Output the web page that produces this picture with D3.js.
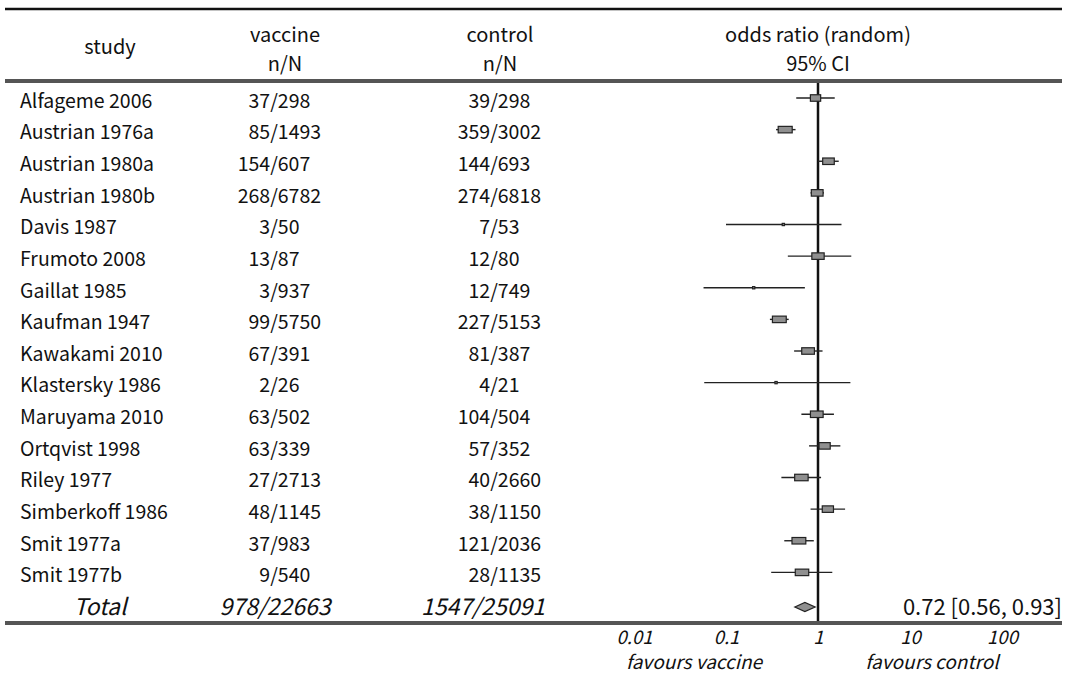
<!DOCTYPE html>
<html>
<head>
<meta charset="utf-8">
<script src="https://cdn.jsdelivr.net/npm/d3@7"></script>
<style>
  body { margin: 0; background: #fff; }
  svg { display: block; font-family: "Noto Sans CJK JP", "Noto Sans", sans-serif; }
</style>
</head>
<body>
<div id="chart"></div>
<script>
// study rows
const studies = ["Alfageme 2006", "Austrian 1976a", "Austrian 1980a", "Austrian 1980b", "Davis 1987",
  "Frumoto 2008", "Gaillat 1985", "Kaufman 1947", "Kawakami 2010", "Klastersky 1986",
  "Maruyama 2010", "Ortqvist 1998", "Riley 1977", "Simberkoff 1986", "Smit 1977a", "Smit 1977b"];
const vaccEvents = [37, 85, 154, 268, 3, 13, 3, 99, 67, 2, 63, 63, 27, 48, 37, 9];
const vaccTotal = [298, 1493, 607, 6782, 50, 87, 937, 5750, 391, 26, 502, 339, 2713, 1145, 983, 540];
const ctrlEvents = [39, 359, 144, 274, 7, 12, 12, 227, 81, 4, 104, 57, 40, 38, 121, 28];
const ctrlTotal = [298, 3002, 693, 6818, 53, 80, 749, 5153, 387, 21, 504, 352, 2660, 1150, 2036, 1135];

// odds ratios and 95% CI
const oddsRatio = [0.94, 0.44, 1.30, 0.98, 0.42, 1.00, 0.20, 0.38, 0.78, 0.35, 0.97, 1.18, 0.66, 1.28, 0.62, 0.67];
const ciLow = [0.58, 0.35, 1.00, 0.83, 0.10, 0.47, 0.057, 0.30, 0.55, 0.058, 0.66, 0.80, 0.40, 0.83, 0.43, 0.31];
const ciHigh = [1.52, 0.57, 1.68, 1.16, 1.80, 2.30, 0.72, 0.48, 1.12, 2.25, 1.49, 1.75, 1.08, 1.97, 0.90, 1.43];
const weights = [5.5, 7.5, 6.2, 6.3, 1.2, 6.6, 1.2, 7.4, 6.8, 1.2, 6.8, 6.0, 7.2, 6.0, 7.4, 7.2];

const total = { label: "Total", vacc: "978/22663", ctrl: "1547/25091", or: 0.72, lo: 0.56, hi: 0.93 };
const orTicks = [0.01, 0.1, 1, 10, 100];

const W = 1076, H = 676;
const svg = d3.select("#chart").append("svg")
  .attr("width", W)
  .attr("height", H);

const rows = studies.concat([total.label]);
const y = d3.scalePoint().domain(rows).range([101, 607]);

const x = d3.scaleLog().domain([0.01, 100]).range([634, 1002]);

const boxW = d3.scaleLinear().domain([0, 7.5]).range([0, 14]);

// rules
svg.append("line").attr("x1", 5).attr("x2", 1062).attr("y1", 9).attr("y2", 9)
  .attr("stroke", "#111").attr("stroke-width", 2.5);
svg.append("line").attr("x1", 5).attr("x2", 1062).attr("y1", 81).attr("y2", 81)
  .attr("stroke", "#555").attr("stroke-width", 4);
svg.append("line").attr("x1", 5).attr("x2", 1062).attr("y1", 623).attr("y2", 623)
  .attr("stroke", "#555").attr("stroke-width", 4);

// headers
const head = svg.append("g").attr("font-size", 20).attr("fill", "#111").attr("text-anchor", "middle");
head.append("text").attr("x", 110).attr("y", 54).text("study");
head.append("text").attr("x", 285).attr("y", 42).text("vaccine");
head.append("text").attr("x", 285).attr("y", 71).text("n/N");
head.append("text").attr("x", 500).attr("y", 42).text("control");
head.append("text").attr("x", 500).attr("y", 71).text("n/N");
head.append("text").attr("x", 818).attr("y", 42).text("odds ratio (random)");
head.append("text").attr("x", 818).attr("y", 71).text("95% CI");

// study labels
const body = svg.append("g").attr("font-size", 19.5).attr("fill", "#111");
body.selectAll(".study").data(studies).join("text")
  .attr("class", "study")
  .attr("x", 20)
  .attr("y", d => y(d))
  .attr("dy", "0.35em")
  .text(d => d);

// n/N columns aligned on the slash
function slashColumn(events, totals, slashX) {
  body.selectAll(null).data(studies).join("text")
    .attr("y", d => y(d))
    .attr("dy", "0.35em")
    .text((d, i) => `${events[i]}/${totals[i]}`)
    .each(function (d, i) {
      const k = String(events[i]).length;
      const pre = this.getSubStringLength(0, k) + this.getSubStringLength(k, 1) / 2;
      d3.select(this).attr("x", slashX - pre);
    });
}
slashColumn(vaccEvents, vaccTotal, 274);
slashColumn(ctrlEvents, ctrlTotal, 494);

// total row
const tot = svg.append("g").attr("font-size", 23).attr("font-style", "italic")
  .attr("fill", "#111").attr("text-anchor", "middle");
tot.append("text").attr("x", 100).attr("y", y(total.label)).attr("dy", "0.35em").text(total.label);
tot.append("text").attr("x", 275).attr("y", y(total.label)).attr("dy", "0.35em").text(total.vacc);
tot.append("text").attr("x", 483).attr("y", y(total.label)).attr("dy", "0.35em").text(total.ctrl);

svg.append("text")
  .attr("x", 1062).attr("y", y(total.label)).attr("dy", "0.35em")
  .attr("text-anchor", "end").attr("font-size", 22).attr("fill", "#111")
  .text(`${total.or.toFixed(2)} [${total.lo.toFixed(2)}, ${total.hi.toFixed(2)}]`);

// no-effect line
svg.append("line")
  .attr("x1", x(1)).attr("x2", x(1))
  .attr("y1", 83).attr("y2", 621)
  .attr("stroke", "#111").attr("stroke-width", 2.5);

// CIs and boxes
const plot = svg.append("g");
plot.selectAll(".ci").data(studies).join("line")
  .attr("class", "ci")
  .attr("x1", (d, i) => x(ciLow[i]))
  .attr("x2", (d, i) => x(ciHigh[i]))
  .attr("y1", d => y(d) - 3)
  .attr("y2", d => y(d) - 3)
  .attr("stroke", "#222")
  .attr("stroke-width", 1.4);

plot.selectAll(".box").data(studies).join("rect")
  .attr("class", "box")
  .attr("x", (d, i) => x(oddsRatio[i]) - boxW(weights[i]) / 2)
  .attr("y", (d, i) => y(d) - 3 - Math.min(6.5, boxW(weights[i])) / 2)
  .attr("width", (d, i) => boxW(weights[i]))
  .attr("height", (d, i) => Math.min(6.5, boxW(weights[i])))
  .attr("fill", "#8f8f8f")
  .attr("stroke", "#222")
  .attr("stroke-width", 1.2);

// pooled diamond
const yt = y(total.label);
plot.append("path")
  .attr("d", `M${x(total.lo)},${yt} L${x(total.or)},${yt - 4.5} L${x(total.hi)},${yt} L${x(total.or)},${yt + 4.5} Z`)
  .attr("fill", "#8f8f8f")
  .attr("stroke", "#222")
  .attr("stroke-width", 1.2);

// axis
const axis = svg.append("g")
  .attr("transform", "translate(0,628)")
  .call(d3.axisBottom(x).tickValues(orTicks).tickSize(0).tickFormat(d => String(d)));
axis.select(".domain").remove();
axis.selectAll("text")
  .attr("font-family", "\"Noto Sans CJK JP\", sans-serif")
  .attr("font-size", 18.5)
  .attr("font-style", "italic")
  .attr("fill", "#111");

const fav = svg.append("g").attr("font-size", 19).attr("font-style", "italic")
  .attr("fill", "#111").attr("text-anchor", "middle");
fav.append("text").attr("x", 694).attr("y", 669).text("favours vaccine");
fav.append("text").attr("x", 932).attr("y", 669).text("favours control");
</script>
</body>
</html>
